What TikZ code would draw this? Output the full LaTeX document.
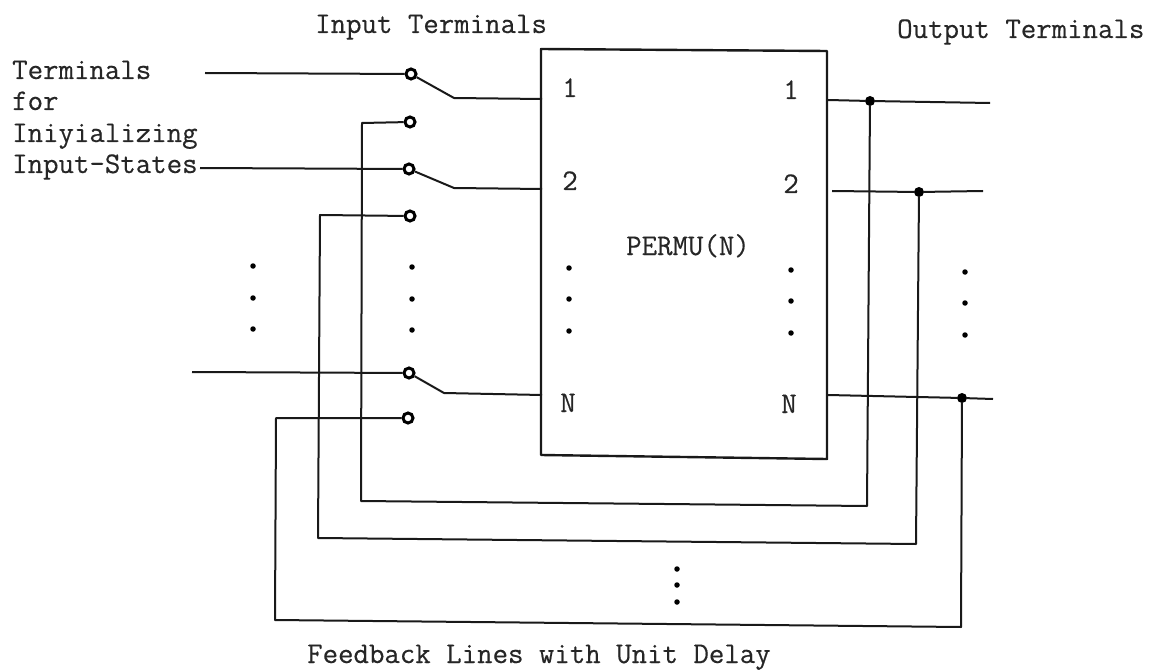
\documentclass[tikz,border=0pt]{standalone}
\usepackage{fontspec}
\newfontfamily\typer[FakeBold=0.4]{Latin Modern Mono}
\begin{document}
\begin{tikzpicture}[x=1pt,y=-1pt,
  wire/.style={line width=2pt,black!90,line join=round},
  boxline/.style={line width=2.4pt,black!90,line join=round},
  term/.style={circle,draw=black,line width=3pt,fill=white,inner sep=0pt,minimum size=10pt},
  junc/.style={circle,fill=black,inner sep=0pt,minimum size=10pt},
  lab/.style={font=\typer\fontsize{30}{30}\selectfont,inner sep=0pt,text=black!85},
  pdot/.style={circle,fill=black,inner sep=0pt,minimum size=5.5pt}]
\useasboundingbox (0,0) rectangle (1151,671);
% PERMU block
\coordinate (bTL) at (541,49);
\coordinate (bTR) at (827,51);
\coordinate (bBR) at (827,459);
\coordinate (bBL) at (541,455);
\draw[boxline] (bTL) -- (bTR) -- (bBR) -- (bBL) -- cycle;
% terminals
\node[term] (t1) at (411,74) {};
\node[term] (f1) at (410,122) {};
\node[term] (t2) at (409,169) {};
\node[term] (f2) at (410,216) {};
\node[term] (tn) at (409,373) {};
\node[term] (fn) at (408,418) {};
% free ends and knees
\coordinate (i1) at (205,73);
\coordinate (i2) at (200,168);
\coordinate (in) at (192,372);
\coordinate (b1) at (542,99);
\coordinate (b2) at (542,189);
\coordinate (bn) at (542,395);
\coordinate (k1) at (454,98);
\coordinate (k2) at (454,188);
\coordinate (kn) at (444,393);
\draw[wire] (i1) -- (t1);
\draw[wire] (i2) -- (t2);
\draw[wire] (in) -- (tn);
\draw[wire] (t1) -- (k1) -- (b1);
\draw[wire] (t2) -- (k2) -- (b2);
\draw[wire] (tn) -- (kn) -- (bn);
% outputs
\coordinate (o1s) at (828,100);
\coordinate (o2s) at (832,191);
\coordinate (ons) at (828,395);
\coordinate (o1e) at (990,103);
\coordinate (o2e) at (983,191);
\coordinate (one) at (993,399);
\node[junc] (j1) at (870,101) {};
\node[junc] (j2) at (919,192) {};
\node[junc] (jn) at (962,398) {};
\draw[wire] (o1s) -- (j1) -- (o1e);
\draw[wire] (o2s) -- (j2) -- (o2e);
\draw[wire] (ons) -- (jn) -- (one);
% feedback
\coordinate (a1) at (362,123);
\coordinate (c1) at (361,501);
\coordinate (d1) at (867,506);
\coordinate (a2) at (320,215);
\coordinate (c2) at (318,538);
\coordinate (d2) at (916,544);
\coordinate (a3) at (276,418);
\coordinate (c3) at (275,620);
\coordinate (d3) at (961,627);
\draw[wire] (f1) -- (a1) -- (c1) -- (d1) -- (j1);
\draw[wire] (f2) -- (a2) -- (c2) -- (d2) -- (j2);
\draw[wire] (fn) -- (a3) -- (c3) -- (d3) -- (jn);
% labels
\node[lab,anchor=base west] (il) at (315,33) {Input Terminals};
\node[lab,anchor=base west] (ol) at (897,38) {Output Terminals};
\node[lab,anchor=base west] (tl1) at (12,79) {Terminals};
\node[lab,anchor=base west] (tl2) at (12,110) {for};
\node[lab,anchor=base west] (tl3) at (12,142) {Iniyializing};
\node[lab,anchor=base west] (tl4) at (12,173) {Input-States};
\node[lab,anchor=base] (la1) at (570,97) {1};
\node[lab,anchor=base] (la2) at (570,190) {2};
\node[lab,anchor=base] (lan) at (568,412) {N};
\node[lab,anchor=base] (lc1) at (791,99) {1};
\node[lab,anchor=base] (lc2) at (791,193) {2};
\node[lab,anchor=base] (lcn) at (789,413) {N};
\node[lab,anchor=base west] (pm) at (626,255) {PERMU(N)};
\node[lab,anchor=base west] (fb) at (307,663) {Feedback Lines with Unit Delay};
% dots
\foreach \x/\a/\b/\c in {253/266/298/329,412/267/299/330,569/268/299/331,791/270/301/333,965/272/303/335,677/569/585/602}{
  \node[pdot] at (\x,\a) {};
  \node[pdot] at (\x,\b) {};
  \node[pdot] at (\x,\c) {};
}
\end{tikzpicture}
\end{document}
